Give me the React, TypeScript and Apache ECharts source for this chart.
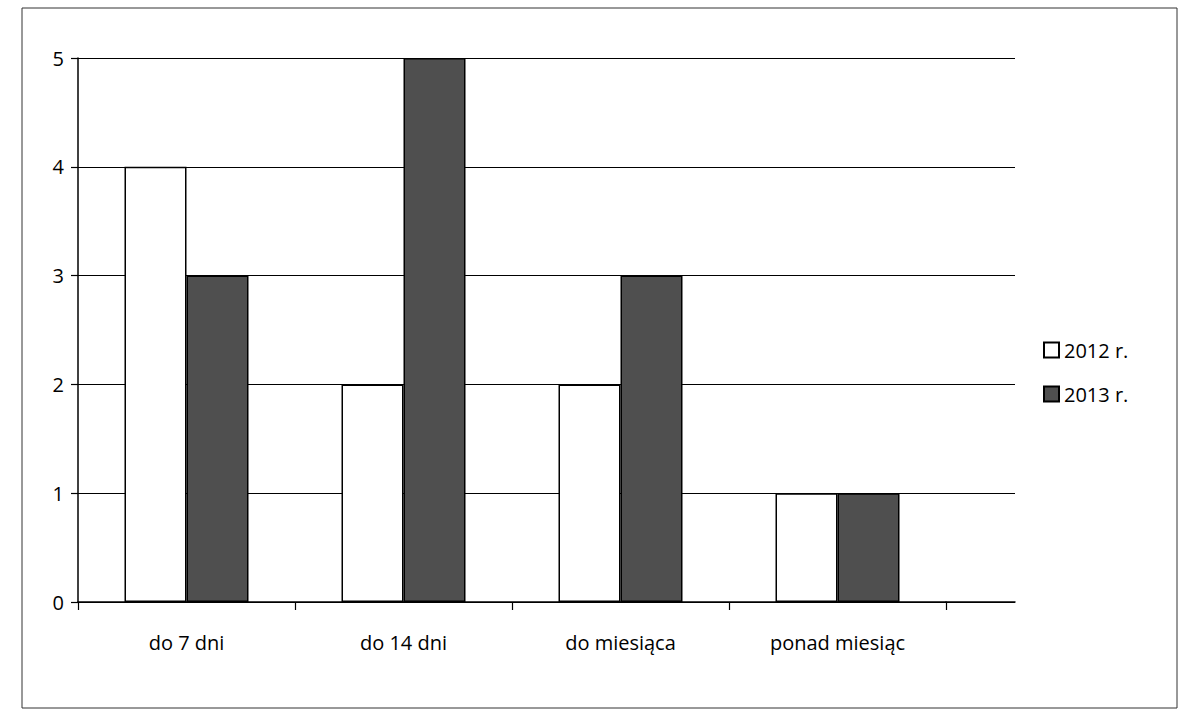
import React, { useEffect, useRef } from "react";
import * as echarts from "echarts";

const categories = ["do 7 dni", "do 14 dni", "do miesiąca", "ponad miesiąc"];
const values2012 = [4, 2, 2, 1];
const values2013 = [3, 5, 3, 1];
const seriesNames = ["2012 r.", "2013 r."];
const yTicks = { min: 0, max: 5, interval: 1 };

export default function App() {
  const ref = useRef<HTMLDivElement>(null);
  useEffect(() => {
    document.body.style.margin = "0";
    const chart = echarts.init(ref.current!, undefined, { renderer: "svg" });
    const font = "'Open Sans', 'Noto Sans', sans-serif";
    chart.setOption({
      animation: false,
      backgroundColor: "#ffffff",
      textStyle: { fontFamily: font, color: "#000" },
      graphic: [
        {
          type: "rect",
          shape: { x: 22, y: 8, width: 1155, height: 700 },
          style: { fill: "none", stroke: "#333", lineWidth: 1 },
          silent: true,
        },
      ],
      legend: {
        orient: "vertical",
        left: 1038,
        top: 335,
        icon: "rect",
        itemWidth: 15,
        itemHeight: 15,
        itemGap: 24,
        textStyle: { fontSize: 20, color: "#000", fontFamily: font },
        data: seriesNames,
      },
      grid: [
        { left: 78, right: 238, top: 58, bottom: 113 },
        { left: 946, right: 169, top: 58, bottom: 113 },
      ],
      xAxis: [
        {
          type: "category",
          gridIndex: 0,
          data: categories,
          axisLine: { lineStyle: { color: "#000", width: 1.5 } },
          axisTick: { show: true, inside: false, length: 8, lineStyle: { color: "#000", width: 1.2 } },
          axisLabel: { margin: 30, fontSize: 20, color: "#000", fontFamily: font },
        },
        {
          type: "category",
          gridIndex: 1,
          data: [""],
          axisLine: { lineStyle: { color: "#000", width: 1.5 } },
          axisTick: { show: false },
          axisLabel: { show: false },
        },
      ],
      yAxis: [
        {
          type: "value",
          gridIndex: 0,
          ...yTicks,
          axisLine: { show: true, lineStyle: { color: "#000", width: 1.5 } },
          axisTick: { show: true, inside: false, length: 7, lineStyle: { color: "#000", width: 1.2 } },
          axisLabel: { margin: 14, fontSize: 20, color: "#000", fontFamily: font },
          splitLine: { lineStyle: { color: "#000", width: 1.2 } },
        },
        {
          type: "value",
          gridIndex: 1,
          ...yTicks,
          axisLine: { show: false },
          axisTick: { show: false },
          axisLabel: { show: false },
          splitLine: { lineStyle: { color: "#000", width: 1.2 } },
        },
      ],
      series: [
        {
          name: seriesNames[0],
          type: "bar",
          xAxisIndex: 0,
          yAxisIndex: 0,
          data: values2012,
          barWidth: 62,
          barGap: "0%",
          itemStyle: { color: "#ffffff", borderColor: "#000", borderWidth: 1.5 },
        },
        {
          name: seriesNames[1],
          type: "bar",
          xAxisIndex: 0,
          yAxisIndex: 0,
          data: values2013,
          barWidth: 62,
          barGap: "0%",
          itemStyle: { color: "#4f4f4f", borderColor: "#000", borderWidth: 1.5 },
        },
      ],
    });
    return () => chart.dispose();
  }, []);
  return <div ref={ref} style={{ width: 1184, height: 715 }} />;
}
